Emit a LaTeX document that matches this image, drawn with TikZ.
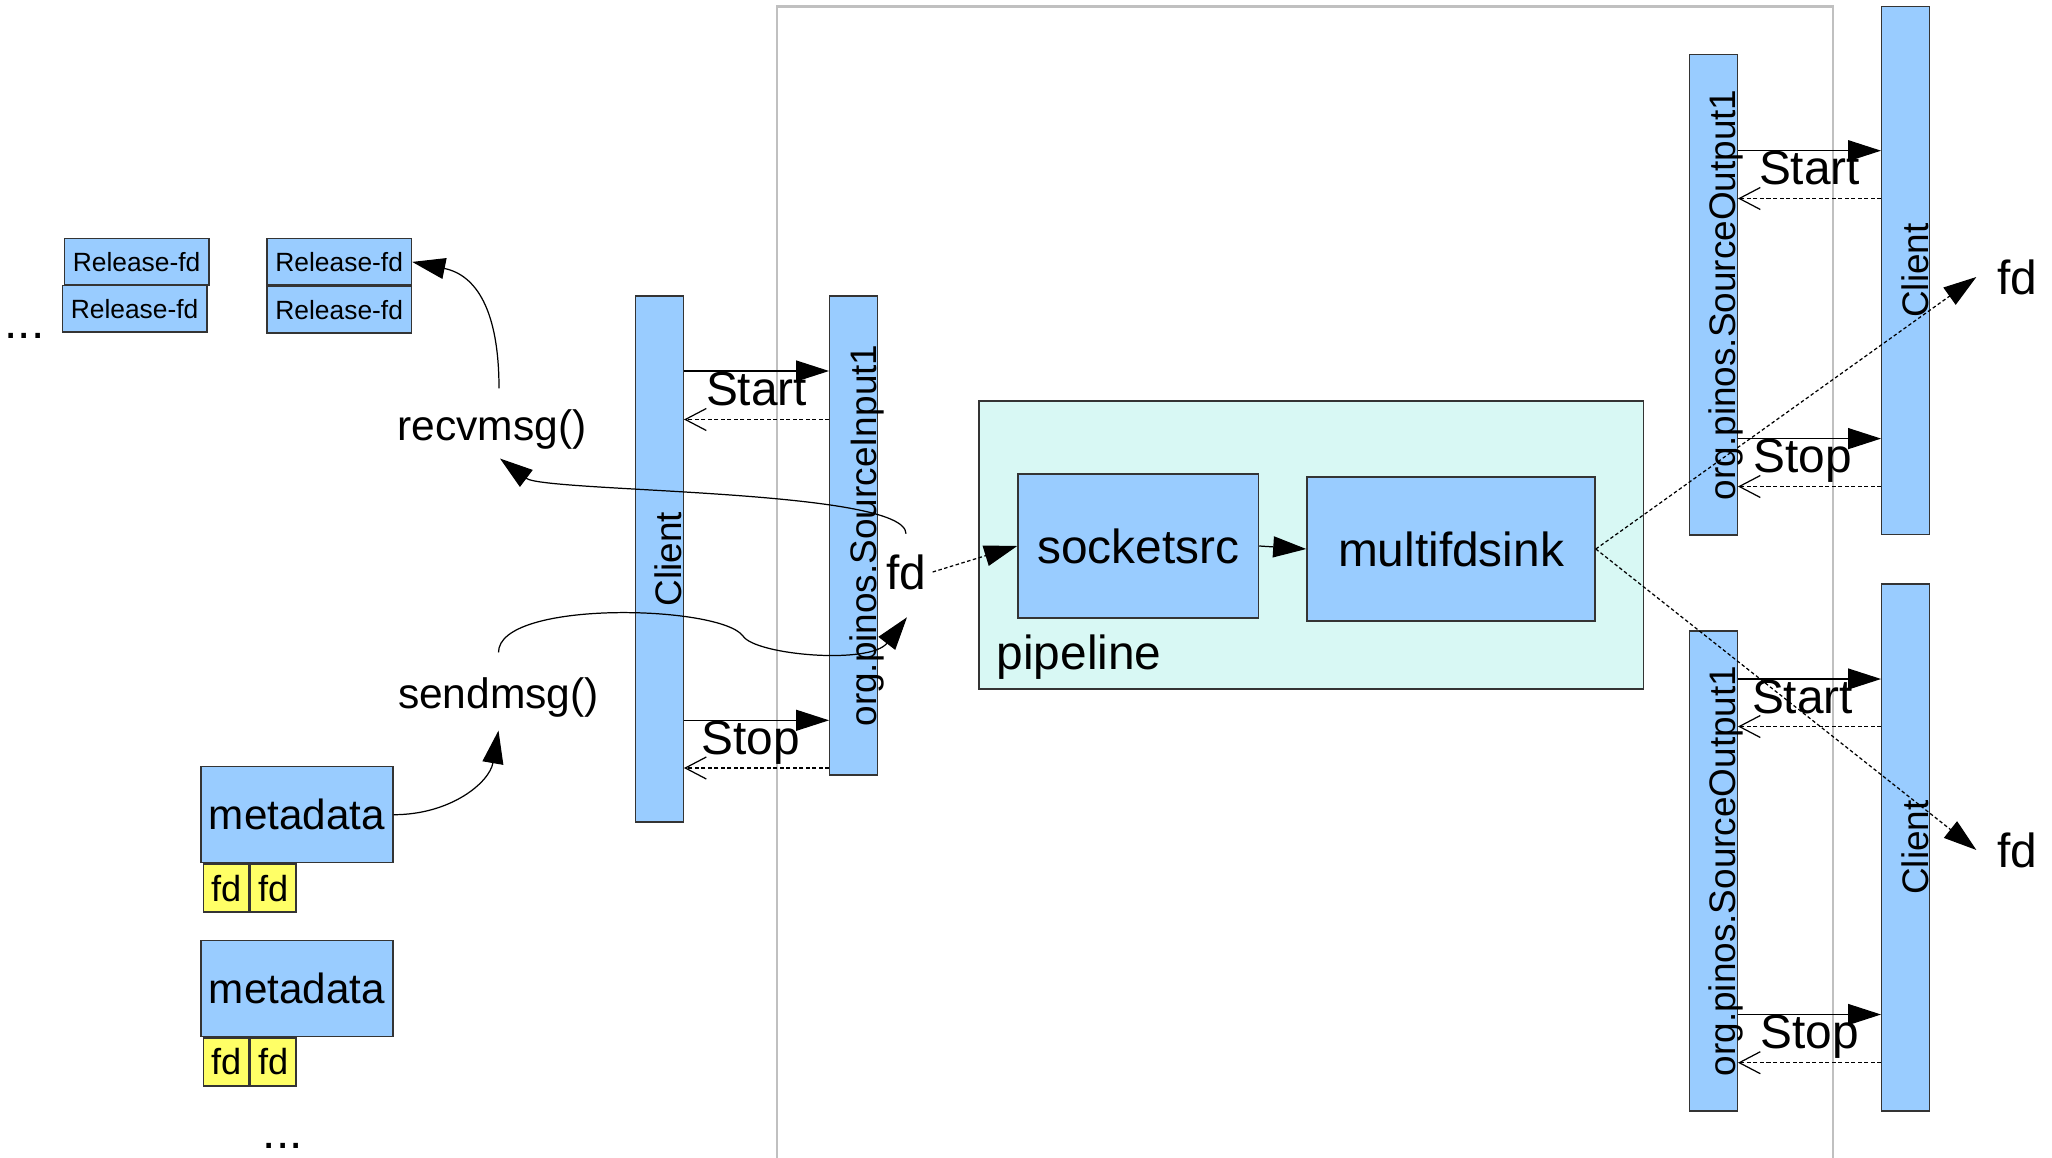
\documentclass[tikz,border=0pt]{standalone}
\usepackage{fontspec}
\setmainfont{Liberation Sans}
\usetikzlibrary{arrows.meta,positioning,calc}

\definecolor{barblue}{RGB}{153,204,255}
\definecolor{fdyellow}{RGB}{255,255,102}
\definecolor{pipecyan}{RGB}{216,248,244}
\definecolor{framegray}{RGB}{192,192,192}
\definecolor{edgegray}{RGB}{52,52,52}

\newcommand{\pinosbig}{\fontsize{13.6}{16}\selectfont}
\newcommand{\pinosmid}{\fontsize{12.1}{14}\selectfont}

\tikzset{
	box/.style={draw=edgegray, line width=0.4pt, inner sep=0pt},
	bar/.style={box, fill=barblue, minimum width=4.75mm},
	barlabel/.style={rotate=90, anchor=base, inner sep=0pt, font=\fontsize{10.5}{12}\selectfont},
	relbox/.style={box, fill=barblue, minimum width=14.45mm, minimum height=4.65mm, font=\fontsize{7.5}{9}\selectfont},
	metabox/.style={box, fill=barblue, minimum width=19.2mm, minimum height=9.6mm, font=\fontsize{12}{14}\selectfont},
	fdbox/.style={box, fill=fdyellow, minimum width=4.55mm, minimum height=4.8mm, font=\fontsize{10.3}{12}\selectfont},
	elembox/.style={box, fill=barblue, minimum height=14.4mm, font=\pinosbig},
	bigtxt/.style={font=\pinosbig},
	midtxt/.style={font=\pinosmid, inner sep=2mm},
	actlabel/.style={midway, below, inner sep=0pt, font=\pinosbig},
	msg/.style={line width=0.35pt, -{Triangle[length=3.3mm,width=2.1mm]}},
	ret/.style={line width=0.35pt, dash pattern=on 0.4mm off 0.25mm, -{Straight Barb[length=2.1mm,width=2.2mm]}},
	fdflow/.style={line width=0.35pt, dash pattern=on 0.35mm off 0.25mm, -{Triangle[length=3.3mm,width=2.1mm]}},
	call/.style={line width=0.35pt, -{Triangle[length=3.3mm,width=2.1mm]}},
}

\begin{document}
\begin{tikzpicture}[x=0.01cm, y=-0.01cm]
	\useasboundingbox (0,0) rectangle (2052,1158);

	% рамка демона
	\draw [framegray, line width=0.6pt] (777,1158) |- (1833,6.5) -- (1833,1158);

	% Release-fd
	\node [relbox] (relA) at (136.6,261.9) {Release-fd};
	\node [relbox] (relB) at (134.6,308.6) {Release-fd};
	\node [relbox] (relC) at (339.2,261.9) {Release-fd};
	\node [relbox, below=0pt of relC] (relD) {Release-fd};
	\node [bigtxt, anchor=base west, inner sep=0pt] (dotsA) at (4,339) {...};

	% metadata + fd
	\node [metabox] (meta1) at (296.9,814.7) {metadata};
	\node [fdbox, anchor=north west] (fdA1) at ([xshift=0.26mm]meta1.south west) {fd};
	\node [fdbox, right=0pt of fdA1] (fdB1) {fd};
	\node [metabox] (meta2) at (296.9,988.5) {metadata};
	\node [fdbox, anchor=north west] (fdA2) at ([xshift=0.26mm]meta2.south west) {fd};
	\node [fdbox, right=0pt of fdA2] (fdB2) {fd};
	\node [bigtxt, anchor=base west, inner sep=0pt] (dotsB) at (262,1148) {...};

	% recvmsg / sendmsg
	\node [midtxt] (recv) at (492,429) {recvmsg()};
	\node [midtxt] (send) at (498.5,697) {sendmsg()};

	% клиент и SourceInput1
	\node [bar, minimum height=52.6mm] (cliL) at (659.5,559) {};
	\node [barlabel] (cliLtxt) at ([xshift=-0.25mm]cliL.east) {Client};
	\node [bar, minimum height=47.9mm] (srcin) at (853.5,535.5) {};
	\node [barlabel] (srcintxt) at ([xshift=-0.1mm]srcin.east) {org.pinos.SourceInput1};
	\node [bigtxt, inner xsep=0.6mm, inner ysep=2mm] (fdin) at (906,572) {fd};

	% pipeline
	\node [box, fill=pipecyan, minimum width=66.4mm, minimum height=28.8mm] (pipe) at (1311,545) {};
	\node [elembox, minimum width=24.05mm] (ssrc) at (1138.2,546) {socketsrc};
	\node [elembox, minimum width=28.8mm] (mfs) at (1451,549) {multifdsink};
	\node [bigtxt, anchor=west, inner sep=0pt] (pipetxt) at (996,657) {pipeline};

	% SourceOutput1 и клиенты
	\node [bar, minimum height=48mm] (so1) at (1713.5,294.8) {};
	\node [barlabel] (so1txt) at ([xshift=-0.2mm]so1.east) {org.pinos.SourceOutput1};
	\node [bar, minimum height=52.8mm] (cl1) at (1905.5,270.5) {};
	\node [barlabel] (cl1txt) at ([xshift=-0.2mm]cl1.east) {Client};
	\node [bar, minimum height=48mm] (so2) at (1713.5,871) {};
	\node [barlabel] (so2txt) at ([xshift=-0.2mm]so2.east) {org.pinos.SourceOutput1};
	\node [bar, minimum height=52.7mm] (cl2) at (1905.5,847.5) {};
	\node [barlabel] (cl2txt) at ([xshift=-0.2mm]cl2.east) {Client};
	\node [bigtxt, inner sep=2mm] (fdr1) at (2017,277) {fd};
	\node [bigtxt, inner sep=2mm] (fdr2) at (2017,850) {fd};

	% Start / Stop слева
	\draw [msg] (cliL.east |- 0,371) -- (srcin.west |- 0,371) node [actlabel] (stL) {Start};
	\draw [ret] (srcin.west |- 0,419.5) -- (cliL.east |- 0,419.5);
	\draw [msg] (cliL.east |- 0,720.3) -- (srcin.west |- 0,720.3) node [actlabel, xshift=-0.6mm] (spL) {Stop};
	\draw [ret] (srcin.west |- 0,768) -- (cliL.east |- 0,768);

	% Start / Stop справа, верх
	\draw [msg] (so1.east |- 0,150.7) -- (cl1.west |- 0,150.7) node [actlabel] (stR1) {Start};
	\draw [ret] (cl1.west |- 0,198.5) -- (so1.east |- 0,198.5);
	\draw [msg] (so1.east |- 0,438.6) -- (cl1.west |- 0,438.6) node [actlabel, xshift=-0.7mm] (spR1) {Stop};
	\draw [ret] (cl1.west |- 0,486.5) -- (so1.east |- 0,486.5);

	% Start / Stop справа, низ
	\draw [msg] (so2.east |- 0,679) -- (cl2.west |- 0,679) node [actlabel, xshift=-0.7mm] (stR2) {Start};
	\draw [ret] (cl2.west |- 0,726.5) -- (so2.east |- 0,726.5);
	\draw [msg] (so2.east |- 0,1014.5) -- (cl2.west |- 0,1014.5) node [actlabel] (spR2) {Stop};
	\draw [ret] (cl2.west |- 0,1062.7) -- (so2.east |- 0,1062.7);

	% поток fd
	\draw [fdflow] (fdin.east) -- (ssrc.west);
	\draw [call] (ssrc.east) -- (mfs.west);
	\draw [fdflow] (mfs.east) -- (fdr1.west);
	\draw [fdflow] (mfs.east) -- (fdr2.west);

	% вызовы
	\draw [call] ($(recv.north)+(7,0)$) .. controls +(0,-79) and +(63.6,13) .. (relC.east);
	\draw [call] (fdin.north) .. controls +(0,-45) and +(45,34) .. ($(recv.south)+(8,-11)$);
	\draw [call] ($(send.north)+(0,-4)$) .. controls +(0,-53) and (720,605) .. (743,636) .. controls (755,655) and (870,665) .. ($(fdin.south)+(1,7)$);
	\draw [call] (meta1.east) .. controls +(57,0) and +(-9,52) .. ($(send.south)+(0,-7)$);
\end{tikzpicture}
\end{document}
